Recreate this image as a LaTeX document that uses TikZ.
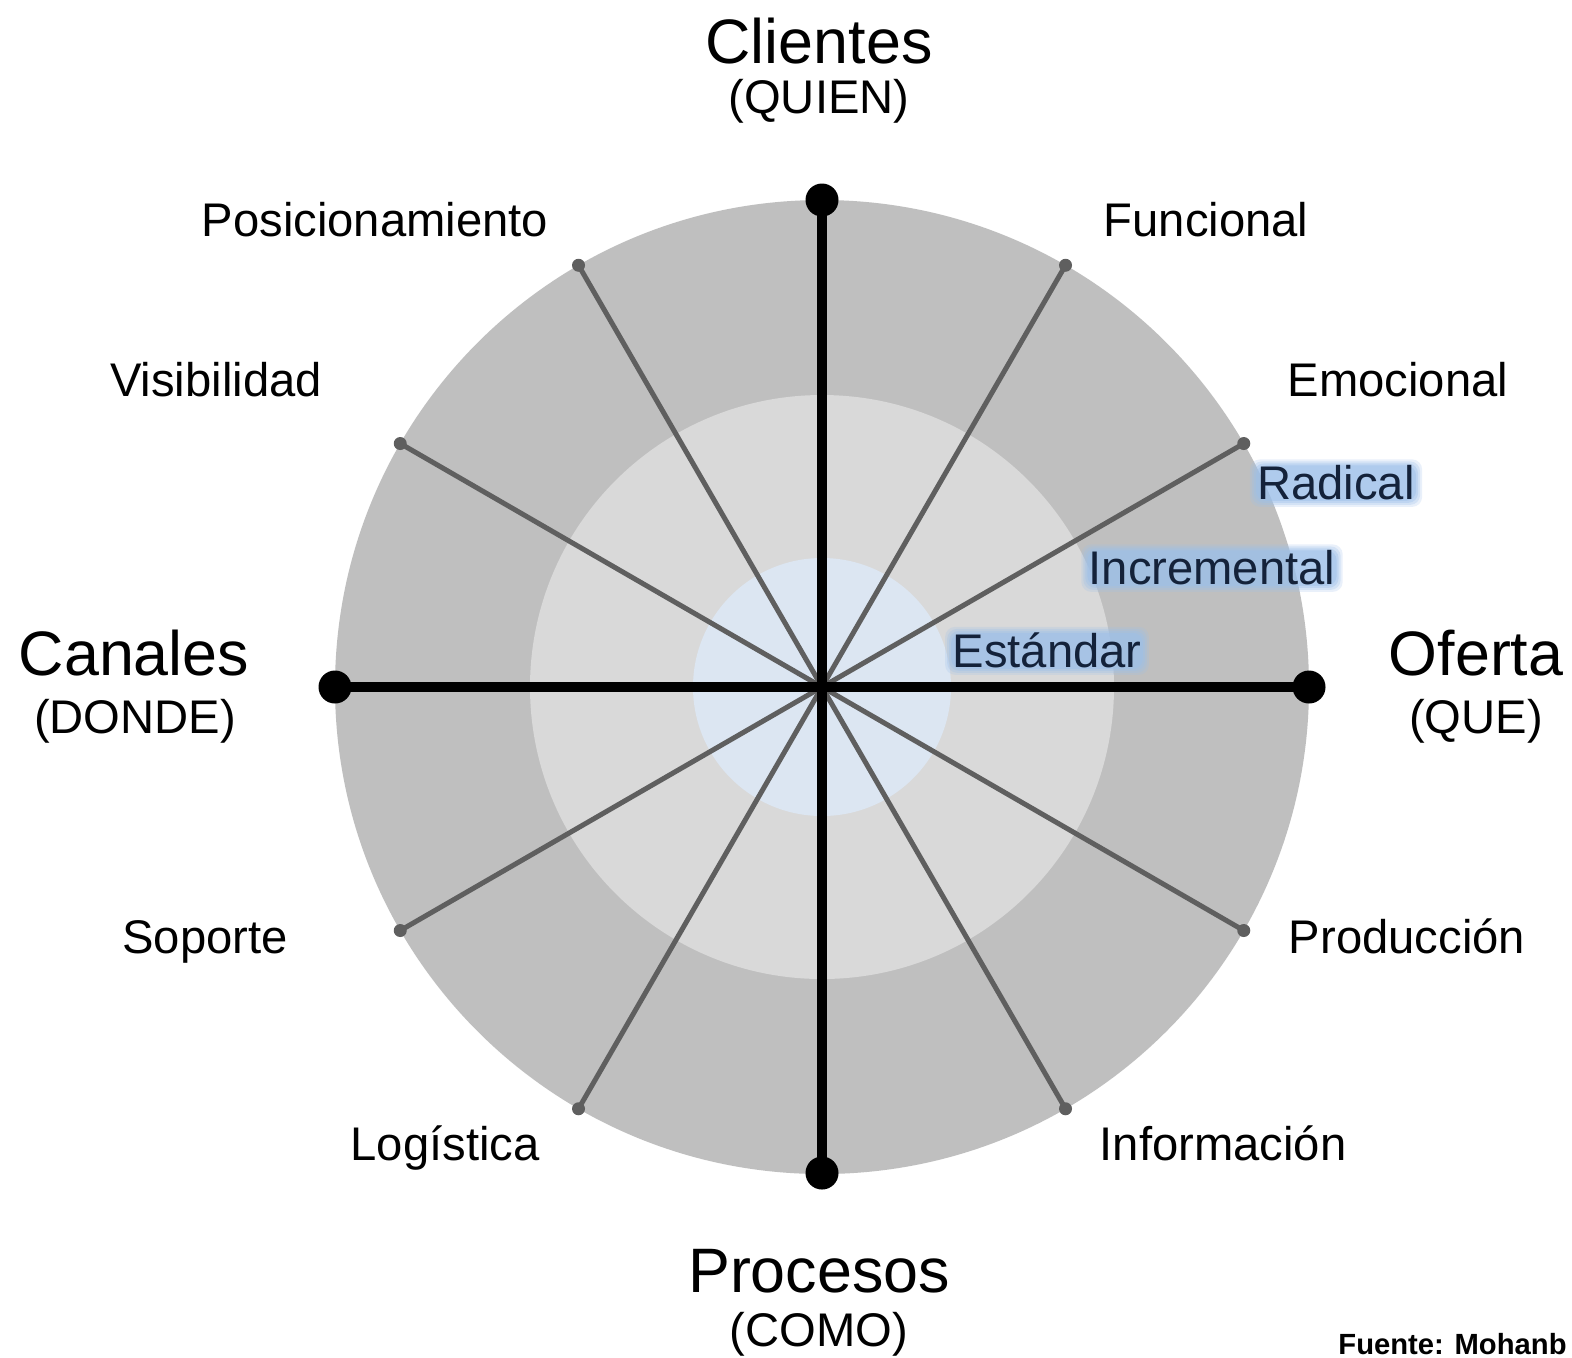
\documentclass[tikz,border=0pt]{standalone}
\usepackage{fontspec}
\setmainfont{Liberation Sans}
\usetikzlibrary{calc}
\pgfdeclarelayer{glowlayer}
\pgfdeclarelayer{front}
\pgfsetlayers{main,glowlayer,front}
\definecolor{outerc}{HTML}{BFBFBF}
\definecolor{midc}{HTML}{D9D9D9}
\definecolor{innerc}{HTML}{DCE6F2}
\definecolor{spokec}{HTML}{5F5F5F}
\definecolor{glowc}{HTML}{9CBFEA}
\definecolor{navyc}{HTML}{14223A}
\begin{document}
\begin{tikzpicture}[x=0.5pt,y=-0.5pt,
  big/.style={font=\fontsize{31.4}{36}\selectfont, anchor=base, inner sep=0pt},
  small/.style={font=\fontsize{23.6}{28}\selectfont, anchor=base, inner sep=0pt},
  glowtext/.style={font=\fontsize{23.6}{28}\selectfont, anchor=base, inner sep=0pt, text=navyc},
  spoke/.style={draw=spokec, line width=2.5pt},
  axis/.style={draw=black, line width=4.6pt}]
\useasboundingbox (0,0) rectangle (1572,1357);
\fill[white] (0,0) rectangle (1572,1357);
\coordinate (c) at (822,687);
% rings
\fill[outerc] (c) circle[radius=487];
\fill[midc] (c) circle[radius=292];
\fill[innerc] (c) circle[radius=129];
% spokes
\foreach \a in {30,60,120,150,210,240,300,330} {
  \path (c) ++(\a:487) coordinate (s\a);
  \draw[spoke] (c) -- (s\a);
  \fill[spokec] (s\a) circle[radius=6.5];
}
% main axes
\coordinate (aN) at (822,200);
\coordinate (aS) at (822,1173);
\coordinate (aW) at (335,687);
\coordinate (aE) at (1309,687);
\draw[axis] (aN) -- (aS);
\draw[axis] (aW) -- (aE);
\foreach \p in {aN,aS,aW,aE} \fill[black] (\p) circle[radius=16.5];
% main labels
\node[big] (cli) at (819,63) {Clientes};
\node[small] (cliq) at (819,113) {(QUIEN)};
\node[big] (can) at (134,675) {Canales};
\node[small] (canq) at (135,733) {(DONDE)};
\node[big] (ofe) at (1476,675) {Oferta};
\node[small] (ofeq) at (1476,733) {(QUE)};
\node[big] (pro) at (819,1292) {Procesos};
\node[small] (proq) at (819,1346) {(COMO)};
% spoke labels
\node[small] (pos) at (375,236) {Posicionamiento};
\node[small] (fun) at (1206,236) {Funcional};
\node[small] (vis) at (216,396) {Visibilidad};
\node[small] (emo) at (1398,396) {Emocional};
\node[small] (sop) at (205,953) {Soporte};
\node[small] (prd) at (1407,953) {Producción};
\node[small] (log) at (445,1160) {Logística};
\node[small] (inf) at (1223,1160) {Información};
% level labels with glow
\begin{pgfonlayer}{front}
\node[glowtext] (rad) at (1336,499) {Radical};
\node[glowtext] (inc) at (1212,584) {Incremental};
\node[glowtext] (est) at (1047,667) {Estándar};
\end{pgfonlayer}
\begin{pgfonlayer}{glowlayer}
\foreach \n in {rad,inc,est} {
  \foreach \e/\o in {7/0.22,5/0.28,3/0.35,1/0.45} {
    \fill[glowc, opacity=\o, rounded corners=5pt]
      ($(\n.south west)+(-\e,\e)$) rectangle ($(\n.north east)+(\e,-\e+2)$);
  }
}
\end{pgfonlayer}
% source
\node[anchor=base west, inner sep=0pt, font=\fontsize{14.6}{17}\bfseries\selectfont] (fue) at (1338,1354) {Fuente: Mohanb};
\end{tikzpicture}
\end{document}
